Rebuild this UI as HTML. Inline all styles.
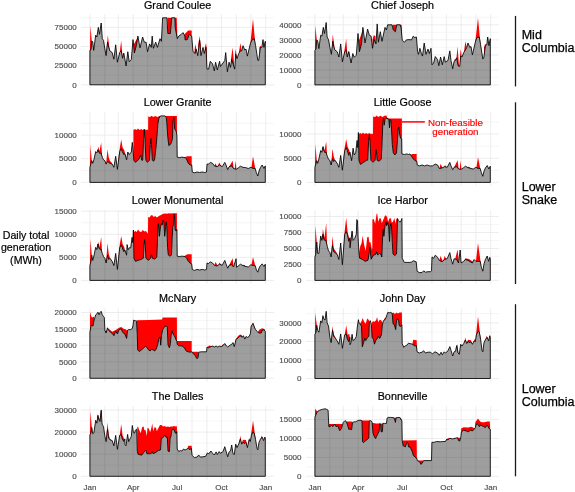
<!DOCTYPE html>
<html lang="en"><head><meta charset="utf-8"><title>Daily total generation</title>
<style>html,body{margin:0;padding:0;background:#fff}svg{display:block}</style></head>
<body>
<svg width="575" height="492" viewBox="0 0 575 492" font-family="'Liberation Sans', Arial, Helvetica, sans-serif">
<rect width="575" height="492" fill="#fff"/>
<defs><clipPath id="c_gc"><polygon points="89.9,50.3 91,49.7 91.8,41 92.7,41.7 93.7,50.3 95.7,35.2 96.9,37 98.3,27.4 99.5,34.3 101.2,23 102.3,38.7 103.5,40.4 104.9,49.1 106.1,55.6 107.5,42.2 108.7,47.4 109.9,50.9 112.2,52.6 113.9,59.2 115.7,44.8 117.4,62.2 119.7,52.6 121.2,50.9 122.6,58.3 123.8,53.1 126.1,66 127.8,51.7 129.2,61.7 131.3,59.6 133,39.6 134.4,53 136.5,44.8 137.9,36.1 140,47.9 142.6,37 144.3,42.2 146.1,42.2 147.5,51.7 149.6,43.9 151.3,47.4 152.2,36.1 153.4,48.3 155.7,42.2 157.4,47.4 160,38.7 161.4,41.3 162.6,17.8 167,17.8 167.8,33.5 170.4,33.5 171.7,17.8 174.8,17.8 175.2,27.4 177.3,38.7 178.7,36.1 181.3,34.3 183,32.6 184.8,36.1 185.1,39.9 187.4,39.6 189.1,34.3 191.7,36.1 193,51.7 195.2,53.5 196.1,49.1 197.8,55.6 199.6,40.4 201,55.6 203,47.4 204.3,53.5 206,47.4 207,69.1 208.6,69.1 210.3,61.3 212.6,63.9 214.3,70.9 215.6,62.2 217.3,70 219.6,61.3 220.4,66.5 223,63 224.8,60.4 225.7,52.6 227.4,71.7 229.1,62.2 230.5,67.4 231.7,59.6 234.7,69.1 235.7,54.3 237,58.7 238.7,53.5 240.4,50.9 241.7,50.9 243,45.7 244.8,50 246,49.1 247.4,56.1 250.3,43.9 251.7,40.4 254.3,38.7 255.6,45.7 257.8,60.4 258.7,60.4 260.4,47.4 261.8,47.4 263,39.6 263.9,47.4 265.3,41.3 265.3,9.4 89.9,9.4"/></clipPath><clipPath id="c_cj"><polygon points="314.9,50.3 316,49.1 316.8,39.9 317.7,41 318.9,48.6 320.7,35.2 321.9,36.1 323.3,27.4 324.5,33.5 326.2,22.5 327.1,37 328.5,39.6 329.9,47.4 331.4,54.3 332.8,41.3 333.7,46.5 334.9,50 337.2,51.7 338.9,57 340.7,43.9 342.4,61.8 344.7,51.7 346.2,50.3 347.3,57 348.8,51.7 351.1,63 352.8,53.5 354.2,57.3 356.3,55.2 358,33.5 359.4,51.7 361.5,43.9 362.9,27.4 365,43 367.6,29.1 369.3,35.2 371.1,36.1 372.5,48.3 374,39.6 376,43.9 377.2,23.9 378.4,42.2 380.3,31.7 382,41.3 385,27.4 386.4,30 387.6,24.8 392,24.8 393.3,30 395.4,31.7 396.7,24.8 400.2,24.8 401.1,28.3 402.3,40.4 404.6,42.2 406.3,39.9 408.9,39.6 411.5,39.9 413.3,36.1 414.5,37.5 416.4,37 417.6,51.7 418.5,54.3 419.9,48.3 421.4,53.5 422.5,56.1 424.2,43 426,54.3 428,49.1 429.4,53.5 431,48.3 432,64.8 433.6,63 435.3,56.6 437.6,59.6 438.8,65.7 440.6,57 442.3,64.8 444.2,56.6 445.4,62.2 448,60.4 449.8,50.9 451,60.4 452.7,68.8 454.1,61.3 455.5,60.4 456.7,57.8 458,65.7 459.7,66.5 460.7,56.1 462,57 463.7,52.6 465.4,50 466.7,47.4 468,43 469.8,47.4 471,46.5 472.4,54.9 475.3,42.2 476.7,37.8 479.3,37 480.6,44.8 482.8,59 483.7,58.3 485.4,45.7 486.8,44.8 487.7,37 488.9,45.7 490.3,38.7 490.3,9.4 314.9,9.4"/></clipPath><clipPath id="c_lg"><polygon points="89.9,167.3 90.8,164.1 91.8,160.7 92.7,163.3 93.9,159.8 95.7,151.6 96.9,152.8 97.9,149.9 98.8,152 100,153.7 100.9,152.8 102.3,157.2 103.5,159.8 104.9,160.7 106.1,164.1 107.5,161.5 108.7,162.4 109.9,163.3 112.2,164.1 113.9,167.3 115.7,156.3 117.4,169.3 119.7,151.6 121.2,148.5 122.3,151.6 123.8,154.6 124.9,153.7 126.6,159.8 127.8,152 129.2,154.6 131.3,152 132.3,142.4 133.1,149.8 133.8,160.2 135.4,162.3 138.6,159.7 140.7,155 141.7,160.2 142.7,160.2 143.6,139.3 144.3,129.6 145,139.3 145.9,160.2 147.4,162.3 149.5,160.2 150.3,144.5 150.9,138.5 151.5,144.5 152.3,160.2 153.7,161.2 154.7,159 156.3,144.5 157.9,123.7 158.9,118.4 160.5,115.9 165.2,115.9 166.2,117.4 166.8,122.6 167.8,137.2 168.8,145.6 170.4,144.5 171.5,142.4 172.5,138.3 173,120.5 173.9,117.2 174.6,128.9 176.1,131 176.9,135.1 177.2,157.1 179.3,157.6 181.9,157.1 185,157.6 186.5,158.9 188.3,163.3 190,165 191.7,165 192.3,172 194.3,172.8 197,172 199.6,172.5 202.2,172 204.8,172.5 206.5,172 207,164.1 208.6,164.1 210.3,162.4 212.6,163.3 214.3,165.9 217,166.7 219.6,165 222.2,166.7 224.8,162.4 226,165 227.7,169.7 229.1,166.7 231.7,165.9 233.5,168.5 236.1,169.3 238.7,167.6 240.4,166.2 243,167.3 245.7,167.6 248.3,168.5 250.9,167.3 253.1,168.5 255.2,168.5 256.4,172.8 257.8,176 259,171.1 260.4,167.6 262.2,165 263.9,168.5 265.3,165.9 265.3,107.4 89.9,107.4"/></clipPath><clipPath id="c_lgo"><polygon points="314.9,167.3 315.8,164.1 316.8,160.7 317.7,163.3 318.9,158.9 320.7,150.6 321.9,152.3 322.9,146.7 323.8,150.6 325,152.8 325.9,152 327.3,156.3 328.5,159.3 329.9,160.3 331.1,165 332.5,158.9 333.7,161.5 334.9,160.3 337.2,163.3 338.9,167.3 340.7,155.4 342.4,170.2 344.7,150.6 346.2,147.6 347.3,150.6 348.8,155.4 349.9,152 351.6,160.7 352.8,150.6 353.1,148.2 354.2,155 355.7,152.9 357.1,140.4 357.8,147.7 358.4,132.5 358.9,160.2 360.4,164.4 363.6,162.3 366.7,160.2 367.7,160.2 368.6,141.4 369.3,134.8 370,141.4 370.9,160.2 373,162.3 375.1,160.2 375.7,151.8 376.1,149.8 376.5,151.8 377.1,160.2 379.2,161.2 381.3,159 382.2,139.3 382.9,121.6 383.6,118.4 384.2,125.2 385,119.5 386,118.4 387.1,117.9 387.8,119 388.8,119 389.5,127.8 390.2,119.5 390.9,120.5 391.5,128.9 392.3,144.5 393.3,152.9 394.9,155 396.5,152.9 397.5,139.3 398.2,128.9 398.9,126.8 399.6,134.1 400.6,138.3 401.7,138.8 401.9,153.9 404.3,154.5 406.9,153.9 408.5,154.5 410,153.9 411.5,156.3 413.3,158.9 415,160.7 416.7,161 417.3,165 419.3,165.9 422,165 424.6,165.9 427.2,165 429.8,165.9 432.4,165.9 435.3,164.1 437.6,165 439.3,168.5 442,168 444.6,166.7 447.2,167.3 449.8,162.4 451,165.9 452.7,169.7 454.1,167.3 456.7,166.7 458.5,169 461.1,169.3 463.7,167.6 465.4,166.2 468,167.6 470.7,168.5 473.3,169 475.9,167.3 478.1,168.5 480.2,168.5 481.4,172.8 482.8,176.3 484,171.1 485.4,168 487.2,165.5 488.9,169 490.3,166.2 490.3,107.4 314.9,107.4"/></clipPath><clipPath id="c_lm"><polygon points="89.9,265.3 90.8,262.1 91.8,255.2 92.7,260.4 93.9,256 95.7,247.3 96.9,249.6 97.9,243.9 98.8,247.9 100,249.6 100.9,249.1 102.3,253.4 103.5,256.6 104.9,258.3 106.1,263 107.5,255.2 108.7,259.5 109.9,258.3 112.2,261.3 113.9,265.6 115.7,253.4 117.4,269.4 119.7,247.9 121.2,244.7 122.3,247.9 123.8,251.7 124.9,250 126.6,255.2 127.1,244.6 128.1,249.8 129.2,247.8 130.7,247.8 132.1,237.3 132.8,242.5 133.4,230 133.9,258.2 135.4,261.3 138.6,260.3 141.7,259.2 143.3,258.2 144,245.7 144.6,239.6 145.3,245.7 145.9,258.2 148.5,260.3 150.6,258.2 151.1,255.1 151.3,254.5 151.6,255.1 152.3,258.2 154.7,259.2 156.8,257 157.6,237.3 158.2,224.8 158.6,223.7 159.4,236.3 160.5,226.9 161.5,223.7 162.4,224.8 163.1,220.1 163.8,221.7 164.7,236.3 165.7,226.9 166.2,221.7 166.8,226.9 167.6,247.8 168.3,255.1 169.9,256.1 171.5,255.1 172.2,237.3 172.8,226.9 173.5,224.8 174.1,214.4 174.6,217.5 175.1,230 176.1,231.1 176.9,229.5 177.2,256.1 179.3,256.6 181.9,256.1 185,256.6 186.5,257.8 188.3,261.3 190,263 191.7,263.9 192.3,269.4 194.3,270.5 197,269.4 199.6,270 202.2,269.4 204.8,270 206.5,269.4 207,263 208.6,263.5 210.3,261.8 212.6,263 214.3,265.3 217,266 219.6,264.2 222.2,265.3 224.8,260.4 226,263.9 227.7,268.2 229.1,265.3 231.7,264.7 233.5,267 236.1,258.7 236.6,267.3 238.7,265.6 240.4,264.2 243,265.6 245.7,266.5 248.3,267 250.9,264.7 253.1,265.6 255.2,265.6 256.4,270 257.8,272.2 259,268.2 260.4,265.6 262.2,263.9 263.9,266.5 265.3,264.2 265.3,205.4 89.9,205.4"/></clipPath><clipPath id="c_ih"><polygon points="314.9,256.9 315.8,254.3 316.8,242.1 317.7,253.4 318.9,253.4 320.7,236 321.9,240.4 322.9,234.3 323.8,239.5 325,240.4 325.9,240.4 327.3,246.5 328.5,250.8 329.9,252.6 331.1,256.9 332.5,245.6 333.7,251.7 334.9,252.6 337.2,254.3 338.9,259.5 340.7,243 342.4,264.7 344.7,234.3 346.2,231.7 347.3,234.3 348.8,241.3 349.9,237.8 350,247.8 352.1,231.1 353.1,240.4 354.7,238.4 356.3,234.2 356.8,219.6 357.5,220.6 358.1,237.3 358.9,251.9 359.6,258.2 362,259.2 365.1,261.3 368,260.3 369.3,251.9 369.8,246.9 370.4,251.9 371.1,259.2 373.5,255.1 375.6,254.5 376.6,251.9 377.7,255.1 379.2,253.5 380.8,254 381.8,257 382.6,237.3 383.2,229 383.9,236.3 385,225.8 386,221.7 386.7,225.8 387.6,222.7 388.6,225.8 389.5,241.5 390.2,226.9 390.9,223.7 391.5,226.9 392.3,242.5 393,254 394.9,255.6 396.5,254 397.2,232.1 397.5,218.5 398.5,220.6 399.9,222.2 401.1,220.6 401.9,218.5 402.2,258.2 404.3,262.4 410,262.4 411.5,262.1 413.3,260.7 416.2,261.8 417.1,271.2 419.3,272.6 422,272.6 423.7,270.8 425.4,272.2 428,271.7 430.7,271.7 431.5,270.8 432,256.9 433.6,258.3 435.3,255.2 437.6,257.3 439.3,260.4 442,261.8 444.6,259.5 447.2,258.7 449.8,252.6 451,258.7 452.7,264.2 454.1,258.7 456.7,259.5 458.5,263 460.2,250 461.1,263 463.7,261.3 465.4,259.5 468,260.4 470.7,262.1 472.4,263 474.1,259.5 475.9,261.3 478.1,261.3 480.2,261.3 481.4,267.3 482.8,271.2 484,263.9 485.4,259.5 487.2,256 488.6,261.3 489.8,257.3 490.3,258.7 490.3,205.4 314.9,205.4"/></clipPath><clipPath id="c_mn"><polygon points="89.9,332.2 91,326.1 91.8,325.2 93,326.1 93.9,320.9 95.7,314.8 96.9,313.9 97.9,312.2 99.1,314.8 100,312.5 101.2,311.3 102.3,314.8 103.5,316.5 104.3,317.4 104.9,330.4 106.1,333 107.5,327.8 108.7,330.4 110.4,332.2 112.2,333.4 113.9,335.7 115.7,331.3 117.4,333.9 119.1,329.6 121.2,328.7 122.6,332.2 124.3,333.9 125,334.3 126.6,338.4 127.6,330.1 128.7,329.6 130.7,329.6 132.3,328.5 133.1,324.9 133.6,320.2 135.4,320.7 136.5,321.2 137.3,335.3 137.7,349.9 139.1,351.5 140.7,350.5 142.7,348.9 145.4,346.3 146.9,347.3 148.5,349.9 150.1,351 151.6,349.4 153.2,349.9 154.7,351 156.3,348.9 157.9,343.7 158.9,338.4 160,336.9 160.7,345.2 161.5,335.3 162.6,330.1 163.8,327.5 165.2,326.4 166.2,325.9 167.3,327 168,344.7 169.4,347.8 170.4,343.7 171.5,331.1 172.2,330.6 173,334.3 174.1,335.3 175.1,337.4 176.1,340 176.9,341.1 177.2,344.2 178.8,345.8 180.8,345.8 182.9,346.3 184,347.8 185,348.9 186.5,351.3 188.3,351.8 190,352.2 191.7,351.8 193.5,353.9 195.2,355.7 197,358.8 198.2,357.4 198.7,352.2 201.3,351.8 203.9,351.8 206.5,351.8 207,347 208.6,347.8 210.9,346.6 212.6,346.1 214.3,347 216.1,346.1 217.8,347 219.6,346.1 221.3,346.6 223,345.6 224.8,343.5 226.5,346.1 227.7,347 230,345.2 231.7,344.3 233,342.6 234.3,346.6 236.1,339.1 237.8,338.3 239.6,336.5 241,335.7 242.2,337.4 243.4,335.7 244.8,339.1 246,336.5 247.4,337.4 249.1,336.5 250.3,333.9 251.2,326.1 253,323.5 254.3,327 255.6,329.6 257,331.3 258.7,333 261.3,333 262.2,330.4 263.9,329.9 265.3,331.3 265.3,303.3 89.9,303.3"/></clipPath><clipPath id="c_jd"><polygon points="314.9,334.4 316,332.2 316.8,325.2 317.7,330.4 318.9,332.2 320.7,320.9 321.9,322.6 322.9,315.7 323.8,319.1 325,320 326.2,311.3 327.1,322.6 328.5,326.1 329.9,337.4 331.1,342.6 332.5,330.4 333.7,336.5 334.9,337.4 337.2,340.9 338.9,344.3 340.7,333.9 342.4,348.3 344.7,334.8 346.2,333.9 347.3,339.1 348.8,341.7 349.9,337.4 350,344.7 351,342.6 352.1,334.3 352.9,340.5 354.7,339.5 356.3,336.4 357.3,327 358.4,319.7 359.2,323.3 360.4,324.4 361.5,326.4 362.3,346.8 363.6,342.6 364.8,338.4 365.7,340.5 367.2,337.9 368.8,336.4 369.3,322.8 370.4,320.7 371.4,324.9 372.1,337.4 373.5,339.5 374.5,344.2 375.9,340 377.1,339 378.2,336.4 379.7,338.4 381.3,335.3 382.4,324.9 383.4,320.7 385,319.7 386,317.6 387.1,314.4 387.8,312.4 389.1,312.9 390.2,312.4 391.2,312.4 392.3,314.4 393,323.8 394.4,324.9 395.7,329.6 396.5,320.7 397.5,318.6 398.5,320.7 399.3,325.9 400.6,326.4 401.9,324.9 402.2,343.7 403.8,347.3 405.3,345.8 406.9,345.2 408.5,343.1 410,343.7 411.5,343.8 413.3,344.9 415,346.1 416.4,345.6 417.1,351.8 419.3,353 422,352.2 423.7,350.8 425.4,353 428,352.2 430.7,352.2 432.4,353.9 435,351.8 437.6,353 439.3,355.3 441.1,352.2 442.3,354.8 444.2,351.8 445.4,353 448,350.8 449.8,346.6 451,350.4 452.7,356 454.1,351.8 455.5,351.3 456.7,345.6 458,353 459.3,354.3 460.7,344.3 462,346.1 463.7,343.5 465.4,340 466.7,343.5 468,341.7 469.8,342.6 471,341.7 472.4,344.3 474.1,340.9 475.3,341.7 476.4,334.8 478,331.3 479.3,332.2 480.6,339.1 482,350.4 482.8,351.8 484,342.6 485.4,339.7 487.2,337.4 488.6,340.9 489.8,335.7 490.3,337.4 490.3,303.3 314.9,303.3"/></clipPath><clipPath id="c_td"><polygon points="89.9,434.9 91,432.8 91.8,427.6 92.7,433.7 93.9,432.8 95.7,420.3 96.9,423.2 97.9,415.4 98.8,419.7 100,421.5 101.2,410.2 102.1,424.1 103.5,426.7 104.9,436.3 106.1,441.5 107.5,429.3 108.7,438 109.9,439.7 112.2,440.6 113.9,445.8 115.7,435.4 117.4,449.3 119.7,435.4 121.2,434.5 122.3,438.9 123.8,441.5 124.9,438.9 125,444.8 126,445.8 127.6,434.4 128.7,441.7 130.2,438.5 131.3,436.4 132.3,425.5 133.4,432.3 134.4,433.3 135.4,430.2 136.7,429.1 137.3,451.1 138,454.2 141.7,455.2 144.8,451.1 145.9,450 146.9,453.7 151.1,453.7 152.1,451.6 153.2,453.7 156.3,452.1 158.4,450.5 160.5,450 161.3,438.5 162.6,438 164.1,435.9 165.2,435.4 166.2,437.5 167.3,437 168,451.1 169.4,451.6 170.1,438.5 170.9,436.4 171.8,430.2 173,429.1 174.1,429.7 175.1,432.8 176.1,433.3 176.9,431.7 177.2,449 178.8,451.6 180.3,450.5 181.9,451.1 183.5,449 185,450 186.5,449.3 188.3,448.4 190,449.8 191.4,448.4 192.1,455.4 194.3,457.5 197,457.1 198.7,455 200.4,457.1 203,456.8 205.7,456.3 207.4,452.8 208.6,454 210.9,451 212.6,453.3 214.3,455 216.1,451.9 217.3,454.5 219.2,451.6 220.4,453.3 223,451.6 224.8,446.7 226,451 227.7,456.8 229.1,451.9 230.5,451 231.7,445 233,453.7 234.3,454.5 235.7,444.1 237,447.6 238.7,444.1 240.4,438.9 241.7,444.1 243,442.3 244.8,443.6 246,442.3 247.4,447.6 249.1,439.7 250.3,441.5 251.4,435.4 253,431.9 254.3,433.7 255.6,439.7 257,448.4 257.8,449.8 259,442.3 260.4,439.4 262.2,437.1 263.6,440.6 264.8,437.1 265.3,438 265.3,401.2 89.9,401.2"/></clipPath><clipPath id="c_bv"><polygon points="314.9,417.1 316,414.5 316.8,412.8 318,411 319.8,410.2 322.4,409.3 325,408.8 326.7,409.3 328.1,410.2 328.8,426.7 330.2,426.7 331.4,425 332.8,426.7 334.6,424.1 336,426.7 337.7,425.8 339.8,430.7 341.5,428.4 343.3,422.3 345,420.6 346.2,421.5 347.3,424.1 348.8,429.3 350,429.1 351.6,429.7 352.6,422.4 354.2,421.8 355.7,421.8 357.3,420.8 358.9,420.3 361,420.3 362,420.8 362.5,441.7 363.6,442.7 365.1,441.1 367.2,439.6 368.8,438 369.3,420.8 370.4,420.6 371.4,421 372.1,422.4 373,433.3 374.5,437 375.6,438.5 376.6,436.4 378.2,433.3 379.2,431.2 379.7,423.4 380.5,423.9 381.1,431.7 382.4,431.7 382.9,423.4 384.4,423.4 386.5,423.4 387.1,418.2 388.1,417.4 390.7,417.4 393.8,417.7 394.7,419.7 395.4,422.4 396.1,417.7 399.1,417.4 400.1,417.7 400.9,419.7 401.9,420.8 402.2,440.6 403.2,445.8 404.3,446.4 405.3,446.9 406.4,443.8 407.2,442.2 407.9,443.2 408.5,446.9 410,446.9 410.7,448.4 412.4,451.9 413.3,455.4 415,457.1 416.7,458 417.3,460.6 419.3,461.5 421.1,464.4 422.8,462 423.7,460.6 431.5,460.6 431.9,442.3 434.1,442.3 436.7,441.5 440.2,441.8 442.8,441.5 445.4,441.5 446.3,439.7 448,439.7 449.8,438.3 452.4,438.9 455,438.3 457.6,437.7 458.5,440.6 459.7,441.1 460.7,438 461.4,431.9 463.7,430.2 466.3,431 468,431.9 470.7,430.2 472.4,431 474.1,429.3 475.3,427.6 476.4,424.1 478,424.1 479.3,426.7 480.6,425 482,425.8 483.7,426.7 485.4,427.6 487.2,425 488.9,428.4 490.3,429.3 490.3,401.2 314.9,401.2"/></clipPath></defs>
<path d="M81.1 75.2H274.1M81.1 56.1H274.1M81.1 37H274.1M81.1 17.8H274.1" stroke="#ececec" stroke-width=".5" fill="none"/>
<path d="M81.1 84.8H274.1M81.1 65.7H274.1M81.1 46.5H274.1M81.1 27.4H274.1M89.9 14.4V88.2M104.8 14.4V88.2M118.3 14.4V88.2M133.2 14.4V88.2M147.7 14.4V88.2M162.6 14.4V88.2M177.1 14.4V88.2M192 14.4V88.2M206.9 14.4V88.2M221.4 14.4V88.2M236.3 14.4V88.2M250.8 14.4V88.2M265.7 14.4V88.2" stroke="#e9e9e9" stroke-width=".8" fill="none"/>
<path clip-path="url(#c_gc)" d="M89.9 84.8L89.9 50.3L90.4 25.7L91.8 41L91.8 84.8ZM106.1 84.8L106.1 55.6L107.8 35.2L109.9 50.9L109.9 84.8ZM119.7 84.8L119.7 52.6L121.2 40.4L122.6 58.3L122.6 84.8ZM133.6 84.8L133.6 44.8L137.4 37.8L137.9 36.1L137.9 84.8ZM167.5 84.8L167.5 17.8L171.7 17.8L171.7 84.8ZM174.8 84.8L174.8 17.8L176.7 17.8L177.4 38.7L177.4 84.8ZM170 84.8L170 17.8L176.6 17.8L177.3 38.7L177.3 84.8ZM184.4 84.8L184.4 34.3L188.3 30.5L191.7 30.5L191.7 36.1L191.7 84.8ZM194.3 84.8L194.3 53.5L195.2 43.9L196.4 49.1L196.4 84.8ZM198.3 84.8L198.3 44.8L199.6 36.1L200.8 44.8L200.8 84.8ZM204.8 84.8L204.8 47.4L206 43L206.9 50L206.9 84.8ZM230.9 84.8L230.9 59.6L232.6 47.4L234 62.2L234 84.8ZM235 84.8L235 54.3L235.7 49.1L236.8 57L236.8 84.8ZM239 84.8L239 51.7L240.4 43L241.7 50.9L241.7 84.8ZM250.3 84.8L250.3 43.9L253 18.7L255.2 43L255.2 84.8ZM259.4 84.8L259.4 47.4L260.4 45.7L261.8 47.4L261.8 84.8Z" fill="#f00"/>
<polygon points="89.9,84.8 89.9,50.3 91,49.7 91.8,41 92.7,41.7 93.7,50.3 95.7,35.2 96.9,37 98.3,27.4 99.5,34.3 101.2,23 102.3,38.7 103.5,40.4 104.9,49.1 106.1,55.6 107.5,42.2 108.7,47.4 109.9,50.9 112.2,52.6 113.9,59.2 115.7,44.8 117.4,62.2 119.7,52.6 121.2,50.9 122.6,58.3 123.8,53.1 126.1,66 127.8,51.7 129.2,61.7 131.3,59.6 133,39.6 134.4,53 136.5,44.8 137.9,36.1 140,47.9 142.6,37 144.3,42.2 146.1,42.2 147.5,51.7 149.6,43.9 151.3,47.4 152.2,36.1 153.4,48.3 155.7,42.2 157.4,47.4 160,38.7 161.4,41.3 162.6,17.8 167,17.8 167.8,33.5 170.4,33.5 171.7,17.8 174.8,17.8 175.2,27.4 177.3,38.7 178.7,36.1 181.3,34.3 183,32.6 184.8,36.1 185.1,39.9 187.4,39.6 189.1,34.3 191.7,36.1 193,51.7 195.2,53.5 196.1,49.1 197.8,55.6 199.6,40.4 201,55.6 203,47.4 204.3,53.5 206,47.4 207,69.1 208.6,69.1 210.3,61.3 212.6,63.9 214.3,70.9 215.6,62.2 217.3,70 219.6,61.3 220.4,66.5 223,63 224.8,60.4 225.7,52.6 227.4,71.7 229.1,62.2 230.5,67.4 231.7,59.6 234.7,69.1 235.7,54.3 237,58.7 238.7,53.5 240.4,50.9 241.7,50.9 243,45.7 244.8,50 246,49.1 247.4,56.1 250.3,43.9 251.7,40.4 254.3,38.7 255.6,45.7 257.8,60.4 258.7,60.4 260.4,47.4 261.8,47.4 263,39.6 263.9,47.4 265.3,41.3 265.3,84.8" fill="#000" fill-opacity=".38" stroke="#000" stroke-width=".85" stroke-linejoin="round"/>
<text x="177.6" y="8.6" font-size="10.8" text-anchor="middle" fill="#000" stroke="#000" stroke-width=".2">Grand Coulee</text>
<text x="76.8" y="87.5" font-size="8" text-anchor="end" fill="#4d4d4d" stroke="#4d4d4d" stroke-width=".15">0</text>
<text x="76.8" y="68.4" font-size="8" text-anchor="end" fill="#4d4d4d" stroke="#4d4d4d" stroke-width=".15">25000</text>
<text x="76.8" y="49.2" font-size="8" text-anchor="end" fill="#4d4d4d" stroke="#4d4d4d" stroke-width=".15">50000</text>
<text x="76.8" y="30.1" font-size="8" text-anchor="end" fill="#4d4d4d" stroke="#4d4d4d" stroke-width=".15">75000</text>
<path d="M306.1 77.4H499M306.1 62.4H499M306.1 47.3H499M306.1 32.3H499M306.1 17.3H499" stroke="#ececec" stroke-width=".5" fill="none"/>
<path d="M306.1 84.9H499M306.1 70H499M306.1 54.9H499M306.1 39.8H499M306.1 24.8H499M314.9 14.4V88.2M329.8 14.4V88.2M343.3 14.4V88.2M358.2 14.4V88.2M372.7 14.4V88.2M387.6 14.4V88.2M402.1 14.4V88.2M417 14.4V88.2M431.9 14.4V88.2M446.4 14.4V88.2M461.3 14.4V88.2M475.8 14.4V88.2M490.7 14.4V88.2" stroke="#e9e9e9" stroke-width=".8" fill="none"/>
<path clip-path="url(#c_cj)" d="M314.9 84.9L314.9 50.3L315.3 25.3L316.8 39.9L316.8 84.9ZM331.4 84.9L331.4 54.3L332.8 34.3L334.9 50L334.9 84.9ZM344.1 84.9L344.1 52.6L346.2 38.7L347.6 57L347.6 84.9ZM348 84.9L348 55.2L348.8 50.3L349.9 57L349.9 84.9ZM358.6 84.9L358.6 41.3L360.7 36.1L362.9 29.1L362.9 84.9ZM372.5 84.9L372.5 39.6L373.7 35.2L375.4 36.1L376 43.9L376 84.9ZM392.5 84.9L392.5 24.8L396.7 24.8L396.7 84.9ZM399.8 84.9L399.8 24.8L401.2 24.8L401.7 29.1L401.7 84.9ZM395 84.9L395 24.8L401.6 24.8L402 30.9L402 84.9ZM454.1 84.9L454.1 61.3L455 58.7L456.2 59.6L456.2 84.9ZM456.2 84.9L456.2 60.4L457.6 46.5L459 65.7L459 84.9ZM460 84.9L460 56.1L460.7 49.1L461.8 57L461.8 84.9ZM464 84.9L464 51.7L465.4 41.3L466.7 47.4L466.7 84.9ZM475.3 84.9L475.3 42.2L478 17.8L480.2 41.3L480.2 84.9ZM484 84.9L484 47.4L485.1 43.9L486.8 44.8L486.8 84.9Z" fill="#f00"/>
<polygon points="314.9,84.9 314.9,50.3 316,49.1 316.8,39.9 317.7,41 318.9,48.6 320.7,35.2 321.9,36.1 323.3,27.4 324.5,33.5 326.2,22.5 327.1,37 328.5,39.6 329.9,47.4 331.4,54.3 332.8,41.3 333.7,46.5 334.9,50 337.2,51.7 338.9,57 340.7,43.9 342.4,61.8 344.7,51.7 346.2,50.3 347.3,57 348.8,51.7 351.1,63 352.8,53.5 354.2,57.3 356.3,55.2 358,33.5 359.4,51.7 361.5,43.9 362.9,27.4 365,43 367.6,29.1 369.3,35.2 371.1,36.1 372.5,48.3 374,39.6 376,43.9 377.2,23.9 378.4,42.2 380.3,31.7 382,41.3 385,27.4 386.4,30 387.6,24.8 392,24.8 393.3,30 395.4,31.7 396.7,24.8 400.2,24.8 401.1,28.3 402.3,40.4 404.6,42.2 406.3,39.9 408.9,39.6 411.5,39.9 413.3,36.1 414.5,37.5 416.4,37 417.6,51.7 418.5,54.3 419.9,48.3 421.4,53.5 422.5,56.1 424.2,43 426,54.3 428,49.1 429.4,53.5 431,48.3 432,64.8 433.6,63 435.3,56.6 437.6,59.6 438.8,65.7 440.6,57 442.3,64.8 444.2,56.6 445.4,62.2 448,60.4 449.8,50.9 451,60.4 452.7,68.8 454.1,61.3 455.5,60.4 456.7,57.8 458,65.7 459.7,66.5 460.7,56.1 462,57 463.7,52.6 465.4,50 466.7,47.4 468,43 469.8,47.4 471,46.5 472.4,54.9 475.3,42.2 476.7,37.8 479.3,37 480.6,44.8 482.8,59 483.7,58.3 485.4,45.7 486.8,44.8 487.7,37 488.9,45.7 490.3,38.7 490.3,84.9" fill="#000" fill-opacity=".38" stroke="#000" stroke-width=".85" stroke-linejoin="round"/>
<text x="402.6" y="8.6" font-size="10.8" text-anchor="middle" fill="#000" stroke="#000" stroke-width=".2">Chief Joseph</text>
<text x="301.5" y="87.6" font-size="8" text-anchor="end" fill="#4d4d4d" stroke="#4d4d4d" stroke-width=".15">0</text>
<text x="301.5" y="72.7" font-size="8" text-anchor="end" fill="#4d4d4d" stroke="#4d4d4d" stroke-width=".15">10000</text>
<text x="301.5" y="57.6" font-size="8" text-anchor="end" fill="#4d4d4d" stroke="#4d4d4d" stroke-width=".15">20000</text>
<text x="301.5" y="42.5" font-size="8" text-anchor="end" fill="#4d4d4d" stroke="#4d4d4d" stroke-width=".15">30000</text>
<text x="301.5" y="27.5" font-size="8" text-anchor="end" fill="#4d4d4d" stroke="#4d4d4d" stroke-width=".15">40000</text>
<path d="M81.1 170.6H274.1M81.1 146.9H274.1M81.1 123.3H274.1" stroke="#ececec" stroke-width=".5" fill="none"/>
<path d="M81.1 182.4H274.1M81.1 158.7H274.1M81.1 135.1H274.1M89.9 112.4V185.9M104.8 112.4V185.9M118.3 112.4V185.9M133.2 112.4V185.9M147.7 112.4V185.9M162.6 112.4V185.9M177.1 112.4V185.9M192 112.4V185.9M206.9 112.4V185.9M221.4 112.4V185.9M236.3 112.4V185.9M250.8 112.4V185.9M265.7 112.4V185.9" stroke="#e9e9e9" stroke-width=".8" fill="none"/>
<path clip-path="url(#c_lg)" d="M89.9 182.4L89.9 167.3L90.4 144.7L91.8 160.7L91.8 182.4ZM96.9 182.4L96.9 152.8L98.3 146.7L99.5 151.1L101.2 142.4L102.1 155.4L102.1 182.4ZM106.1 182.4L106.1 164.1L107.5 149.3L108.7 157.2L109.9 160.7L112.2 163.3L112.2 182.4ZM118.6 182.4L118.6 157.2L119.7 148.5L121.2 139.4L122.6 147.6L124.3 150.2L125.6 155.4L125.6 182.4ZM184.4 182.4L184.4 157.2L187.4 156.3L191.7 156.3L191.7 165L191.7 182.4ZM214.3 182.4L214.3 165.9L215.6 163.3L217 166.7L217 182.4ZM217.8 182.4L217.8 165.9L219.2 162.4L221.3 166.2L221.3 182.4ZM229.1 182.4L229.1 166.7L232.6 160.7L233.7 168.5L233.7 182.4ZM234.7 182.4L234.7 169L235.6 160.7L236.4 169L236.4 182.4ZM251.4 182.4L251.4 167.6L253 156.3L255.2 168L255.2 182.4ZM133.4 182.4L133.4 159L133.4 129.9L134.9 128.9L136.5 129.9L138 128.4L139.6 129.9L141.2 128.9L142.7 129.9L144.3 128.9L145.9 129.9L147.4 129.4L148.1 130.4L148.2 116.4L150.1 116.9L151.6 115.8L153.2 116.9L155.3 116.1L157.4 116.9L159.4 115.9L176.9 115.9L176.9 135.1L176.9 182.4Z" fill="#f00"/>
<polygon points="89.9,182.4 89.9,167.3 90.8,164.1 91.8,160.7 92.7,163.3 93.9,159.8 95.7,151.6 96.9,152.8 97.9,149.9 98.8,152 100,153.7 100.9,152.8 102.3,157.2 103.5,159.8 104.9,160.7 106.1,164.1 107.5,161.5 108.7,162.4 109.9,163.3 112.2,164.1 113.9,167.3 115.7,156.3 117.4,169.3 119.7,151.6 121.2,148.5 122.3,151.6 123.8,154.6 124.9,153.7 126.6,159.8 127.8,152 129.2,154.6 131.3,152 132.3,142.4 133.1,149.8 133.8,160.2 135.4,162.3 138.6,159.7 140.7,155 141.7,160.2 142.7,160.2 143.6,139.3 144.3,129.6 145,139.3 145.9,160.2 147.4,162.3 149.5,160.2 150.3,144.5 150.9,138.5 151.5,144.5 152.3,160.2 153.7,161.2 154.7,159 156.3,144.5 157.9,123.7 158.9,118.4 160.5,115.9 165.2,115.9 166.2,117.4 166.8,122.6 167.8,137.2 168.8,145.6 170.4,144.5 171.5,142.4 172.5,138.3 173,120.5 173.9,117.2 174.6,128.9 176.1,131 176.9,135.1 177.2,157.1 179.3,157.6 181.9,157.1 185,157.6 186.5,158.9 188.3,163.3 190,165 191.7,165 192.3,172 194.3,172.8 197,172 199.6,172.5 202.2,172 204.8,172.5 206.5,172 207,164.1 208.6,164.1 210.3,162.4 212.6,163.3 214.3,165.9 217,166.7 219.6,165 222.2,166.7 224.8,162.4 226,165 227.7,169.7 229.1,166.7 231.7,165.9 233.5,168.5 236.1,169.3 238.7,167.6 240.4,166.2 243,167.3 245.7,167.6 248.3,168.5 250.9,167.3 253.1,168.5 255.2,168.5 256.4,172.8 257.8,176 259,171.1 260.4,167.6 262.2,165 263.9,168.5 265.3,165.9 265.3,182.4" fill="#000" fill-opacity=".38" stroke="#000" stroke-width=".85" stroke-linejoin="round"/>
<text x="177.6" y="106.2" font-size="10.8" text-anchor="middle" fill="#000" stroke="#000" stroke-width=".2">Lower Granite</text>
<text x="76.8" y="185.1" font-size="8" text-anchor="end" fill="#4d4d4d" stroke="#4d4d4d" stroke-width=".15">0</text>
<text x="76.8" y="161.4" font-size="8" text-anchor="end" fill="#4d4d4d" stroke="#4d4d4d" stroke-width=".15">5000</text>
<text x="76.8" y="137.8" font-size="8" text-anchor="end" fill="#4d4d4d" stroke="#4d4d4d" stroke-width=".15">10000</text>
<path d="M306.1 170.4H499M306.1 146.2H499M306.1 121.9H499" stroke="#ececec" stroke-width=".5" fill="none"/>
<path d="M306.1 182.4H499M306.1 158.3H499M306.1 134H499M314.9 112.4V185.9M329.8 112.4V185.9M343.3 112.4V185.9M358.2 112.4V185.9M372.7 112.4V185.9M387.6 112.4V185.9M402.1 112.4V185.9M417 112.4V185.9M431.9 112.4V185.9M446.4 112.4V185.9M461.3 112.4V185.9M475.8 112.4V185.9M490.7 112.4V185.9" stroke="#e9e9e9" stroke-width=".8" fill="none"/>
<path clip-path="url(#c_lgo)" d="M314.9 182.4L314.9 167.3L315.4 144.1L316.8 160.7L316.8 182.4ZM321.9 182.4L321.9 152.3L323.3 145.9L324.5 150.6L326.2 141.5L327.1 155.4L327.1 182.4ZM331.1 182.4L331.1 165L332.5 148.5L333.7 156.3L334.9 159.8L337.2 163.3L337.2 182.4ZM343.6 182.4L343.6 157.2L344.7 147.6L346.2 138.9L347.6 146.7L349.3 150.2L350.6 155.4L350.6 182.4ZM409.4 182.4L409.4 155.4L412.4 154L416.7 154L416.7 161L416.7 182.4ZM439.3 182.4L439.3 168.5L440.6 164.1L442.8 168L442.8 182.4ZM443.7 182.4L443.7 167.3L445.1 165L446.3 167.3L446.3 182.4ZM454.1 182.4L454.1 167.3L457.6 160.3L458.7 169L458.7 182.4ZM459.7 182.4L459.7 169.3L460.6 160.3L461.4 169.3L461.4 182.4ZM466.3 182.4L466.3 167.6L468.9 166.7L471.5 168.5L471.5 182.4ZM476.4 182.4L476.4 167.6L478 157.2L480.2 168L480.2 182.4ZM358.9 182.4L358.9 159L358.9 134.1L360.4 133.1L361.7 134.1L363 132.5L364.6 134.1L366.2 133.1L367.7 134.1L369.3 133.1L370.9 134.1L372.4 133.6L373 134.6L373.1 116.4L375.1 116.9L376.6 115.5L378.2 116.9L380.3 115.8L382.4 116.9L384.4 115.8L386.5 115.5L387.2 118.4L401.9 118.4L401.9 138.8L401.9 182.4Z" fill="#f00"/>
<polygon points="314.9,182.4 314.9,167.3 315.8,164.1 316.8,160.7 317.7,163.3 318.9,158.9 320.7,150.6 321.9,152.3 322.9,146.7 323.8,150.6 325,152.8 325.9,152 327.3,156.3 328.5,159.3 329.9,160.3 331.1,165 332.5,158.9 333.7,161.5 334.9,160.3 337.2,163.3 338.9,167.3 340.7,155.4 342.4,170.2 344.7,150.6 346.2,147.6 347.3,150.6 348.8,155.4 349.9,152 351.6,160.7 352.8,150.6 353.1,148.2 354.2,155 355.7,152.9 357.1,140.4 357.8,147.7 358.4,132.5 358.9,160.2 360.4,164.4 363.6,162.3 366.7,160.2 367.7,160.2 368.6,141.4 369.3,134.8 370,141.4 370.9,160.2 373,162.3 375.1,160.2 375.7,151.8 376.1,149.8 376.5,151.8 377.1,160.2 379.2,161.2 381.3,159 382.2,139.3 382.9,121.6 383.6,118.4 384.2,125.2 385,119.5 386,118.4 387.1,117.9 387.8,119 388.8,119 389.5,127.8 390.2,119.5 390.9,120.5 391.5,128.9 392.3,144.5 393.3,152.9 394.9,155 396.5,152.9 397.5,139.3 398.2,128.9 398.9,126.8 399.6,134.1 400.6,138.3 401.7,138.8 401.9,153.9 404.3,154.5 406.9,153.9 408.5,154.5 410,153.9 411.5,156.3 413.3,158.9 415,160.7 416.7,161 417.3,165 419.3,165.9 422,165 424.6,165.9 427.2,165 429.8,165.9 432.4,165.9 435.3,164.1 437.6,165 439.3,168.5 442,168 444.6,166.7 447.2,167.3 449.8,162.4 451,165.9 452.7,169.7 454.1,167.3 456.7,166.7 458.5,169 461.1,169.3 463.7,167.6 465.4,166.2 468,167.6 470.7,168.5 473.3,169 475.9,167.3 478.1,168.5 480.2,168.5 481.4,172.8 482.8,176.3 484,171.1 485.4,168 487.2,165.5 488.9,169 490.3,166.2 490.3,182.4" fill="#000" fill-opacity=".38" stroke="#000" stroke-width=".85" stroke-linejoin="round"/>
<text x="402.6" y="106.2" font-size="10.8" text-anchor="middle" fill="#000" stroke="#000" stroke-width=".2">Little Goose</text>
<text x="301.5" y="185.1" font-size="8" text-anchor="end" fill="#4d4d4d" stroke="#4d4d4d" stroke-width=".15">0</text>
<text x="301.5" y="161" font-size="8" text-anchor="end" fill="#4d4d4d" stroke="#4d4d4d" stroke-width=".15">5000</text>
<text x="301.5" y="136.7" font-size="8" text-anchor="end" fill="#4d4d4d" stroke="#4d4d4d" stroke-width=".15">10000</text>
<path d="M81.1 268.9H274.1M81.1 245.9H274.1M81.1 222.8H274.1" stroke="#ececec" stroke-width=".5" fill="none"/>
<path d="M81.1 280.4H274.1M81.1 257.4H274.1M81.1 234.3H274.1M81.1 211.2H274.1M89.9 210.4V283.9M104.8 210.4V283.9M118.3 210.4V283.9M133.2 210.4V283.9M147.7 210.4V283.9M162.6 210.4V283.9M177.1 210.4V283.9M192 210.4V283.9M206.9 210.4V283.9M221.4 210.4V283.9M236.3 210.4V283.9M250.8 210.4V283.9M265.7 210.4V283.9" stroke="#e9e9e9" stroke-width=".8" fill="none"/>
<path clip-path="url(#c_lm)" d="M89.9 280.4L89.9 265.3L90.4 238.7L91.8 255.2L91.8 280.4ZM96.9 280.4L96.9 249.6L98.3 242.1L99.5 247.3L101.2 236.9L102.1 252.6L102.1 280.4ZM106.1 280.4L106.1 263L107.5 243L108.7 253.4L109.9 257.8L112.2 261.3L112.2 280.4ZM118.6 280.4L118.6 255.2L119.7 244.7L121.2 236L122.6 243.9L124.3 247.3L125.6 252.6L125.6 280.4ZM184.4 280.4L184.4 256L187.4 254.3L191.7 254.3L191.7 263.9L191.7 280.4ZM214.3 280.4L214.3 265.3L215.6 262.1L217.8 266L217.8 280.4ZM218.3 280.4L218.3 265.3L219.6 262.5L221.3 265.3L221.3 280.4ZM229.1 280.4L229.1 265.3L232.6 258.3L233.7 267L233.7 280.4ZM241.3 280.4L241.3 265.6L243.9 264.7L246.5 266.5L246.5 280.4ZM251.4 280.4L251.4 265.3L253 256.9L255.2 265.6L255.2 280.4ZM133.9 280.4L133.9 257L133.9 232.1L135.4 231.1L136.7 232.1L138 229.5L139.6 231.6L141.2 232.1L142.7 230L144.3 231.6L145.9 231.1L147.4 233.1L148 233.7L148.1 217L149.5 217.5L150.9 215.4L152.1 214.9L153.7 217L155.3 215.9L156.8 217.5L158.9 215.9L161 214.9L163.1 213.8L165.2 213.5L166.8 213.8L168.8 213.3L170.9 213.5L173 213.3L176.9 213.3L176.9 229.5L176.9 280.4Z" fill="#f00"/>
<polygon points="89.9,280.4 89.9,265.3 90.8,262.1 91.8,255.2 92.7,260.4 93.9,256 95.7,247.3 96.9,249.6 97.9,243.9 98.8,247.9 100,249.6 100.9,249.1 102.3,253.4 103.5,256.6 104.9,258.3 106.1,263 107.5,255.2 108.7,259.5 109.9,258.3 112.2,261.3 113.9,265.6 115.7,253.4 117.4,269.4 119.7,247.9 121.2,244.7 122.3,247.9 123.8,251.7 124.9,250 126.6,255.2 127.1,244.6 128.1,249.8 129.2,247.8 130.7,247.8 132.1,237.3 132.8,242.5 133.4,230 133.9,258.2 135.4,261.3 138.6,260.3 141.7,259.2 143.3,258.2 144,245.7 144.6,239.6 145.3,245.7 145.9,258.2 148.5,260.3 150.6,258.2 151.1,255.1 151.3,254.5 151.6,255.1 152.3,258.2 154.7,259.2 156.8,257 157.6,237.3 158.2,224.8 158.6,223.7 159.4,236.3 160.5,226.9 161.5,223.7 162.4,224.8 163.1,220.1 163.8,221.7 164.7,236.3 165.7,226.9 166.2,221.7 166.8,226.9 167.6,247.8 168.3,255.1 169.9,256.1 171.5,255.1 172.2,237.3 172.8,226.9 173.5,224.8 174.1,214.4 174.6,217.5 175.1,230 176.1,231.1 176.9,229.5 177.2,256.1 179.3,256.6 181.9,256.1 185,256.6 186.5,257.8 188.3,261.3 190,263 191.7,263.9 192.3,269.4 194.3,270.5 197,269.4 199.6,270 202.2,269.4 204.8,270 206.5,269.4 207,263 208.6,263.5 210.3,261.8 212.6,263 214.3,265.3 217,266 219.6,264.2 222.2,265.3 224.8,260.4 226,263.9 227.7,268.2 229.1,265.3 231.7,264.7 233.5,267 236.1,258.7 236.6,267.3 238.7,265.6 240.4,264.2 243,265.6 245.7,266.5 248.3,267 250.9,264.7 253.1,265.6 255.2,265.6 256.4,270 257.8,272.2 259,268.2 260.4,265.6 262.2,263.9 263.9,266.5 265.3,264.2 265.3,280.4" fill="#000" fill-opacity=".38" stroke="#000" stroke-width=".85" stroke-linejoin="round"/>
<text x="177.6" y="204.2" font-size="10.8" text-anchor="middle" fill="#000" stroke="#000" stroke-width=".2">Lower Monumental</text>
<text x="76.8" y="283.1" font-size="8" text-anchor="end" fill="#4d4d4d" stroke="#4d4d4d" stroke-width=".15">0</text>
<text x="76.8" y="260.1" font-size="8" text-anchor="end" fill="#4d4d4d" stroke="#4d4d4d" stroke-width=".15">5000</text>
<text x="76.8" y="237" font-size="8" text-anchor="end" fill="#4d4d4d" stroke="#4d4d4d" stroke-width=".15">10000</text>
<text x="76.8" y="213.9" font-size="8" text-anchor="end" fill="#4d4d4d" stroke="#4d4d4d" stroke-width=".15">15000</text>
<path d="M306.1 272.4H499M306.1 256.4H499M306.1 240.5H499M306.1 224.5H499" stroke="#ececec" stroke-width=".5" fill="none"/>
<path d="M306.1 280.4H499M306.1 264.4H499M306.1 248.5H499M306.1 232.5H499M306.1 216.5H499M314.9 210.4V283.9M329.8 210.4V283.9M343.3 210.4V283.9M358.2 210.4V283.9M372.7 210.4V283.9M387.6 210.4V283.9M402.1 210.4V283.9M417 210.4V283.9M431.9 210.4V283.9M446.4 210.4V283.9M461.3 210.4V283.9M475.8 210.4V283.9M490.7 210.4V283.9" stroke="#e9e9e9" stroke-width=".8" fill="none"/>
<path clip-path="url(#c_ih)" d="M314.9 280.4L314.9 256.9L315.4 225.6L316.8 242.1L316.8 280.4ZM321.9 280.4L321.9 240.4L322.9 229.1L324.5 237.8L326.2 223L327.1 244.7L327.1 280.4ZM331.1 280.4L331.1 256.9L332.5 236L333.7 248.2L334.9 250L337.2 253.4L337.2 280.4ZM343.6 280.4L343.6 246.5L344.7 230.8L346.2 217.8L347.6 231.7L349.3 239.5L350.6 240.4L351.3 248.2L351.3 280.4ZM439.3 280.4L439.3 260.4L440.6 256L442.8 261.3L442.8 280.4ZM443.3 280.4L443.3 260.4L444.6 256L446.3 259L446.3 280.4ZM455 280.4L455 259.5L457.6 249.6L459 263L459 280.4ZM463.7 280.4L463.7 261.3L465.4 258.3L468.9 259L473.3 262.1L473.3 280.4ZM475.9 280.4L475.9 261.3L478 243L480.6 261.8L480.6 280.4ZM350 280.4L350 240.4L351 237.3L352.1 230.5L352.5 235.2L352.5 280.4ZM359 280.4L359 257L359.2 251.9L360.4 245.7L361.5 243.6L362.7 235.7L364.1 244.6L365.7 250.9L367.2 237.3L368.6 236.8L369.3 242.5L370.4 242L371.9 249.8L372.3 247.8L372.4 219.6L373.8 219L375.1 223.7L376.6 213.8L377.3 213.8L378.2 221.7L379.7 218L380.8 218.5L381.8 223.2L383.4 219.6L385 215.4L386 215.4L387.1 217L388.1 221.7L389.5 218.5L390.7 218L391.8 222.7L393 221.7L394.4 218L395.4 223.7L396.5 218.5L397.5 218.5L397.6 220.6L397.6 280.4Z" fill="#f00"/>
<polygon points="314.9,280.4 314.9,256.9 315.8,254.3 316.8,242.1 317.7,253.4 318.9,253.4 320.7,236 321.9,240.4 322.9,234.3 323.8,239.5 325,240.4 325.9,240.4 327.3,246.5 328.5,250.8 329.9,252.6 331.1,256.9 332.5,245.6 333.7,251.7 334.9,252.6 337.2,254.3 338.9,259.5 340.7,243 342.4,264.7 344.7,234.3 346.2,231.7 347.3,234.3 348.8,241.3 349.9,237.8 350,247.8 352.1,231.1 353.1,240.4 354.7,238.4 356.3,234.2 356.8,219.6 357.5,220.6 358.1,237.3 358.9,251.9 359.6,258.2 362,259.2 365.1,261.3 368,260.3 369.3,251.9 369.8,246.9 370.4,251.9 371.1,259.2 373.5,255.1 375.6,254.5 376.6,251.9 377.7,255.1 379.2,253.5 380.8,254 381.8,257 382.6,237.3 383.2,229 383.9,236.3 385,225.8 386,221.7 386.7,225.8 387.6,222.7 388.6,225.8 389.5,241.5 390.2,226.9 390.9,223.7 391.5,226.9 392.3,242.5 393,254 394.9,255.6 396.5,254 397.2,232.1 397.5,218.5 398.5,220.6 399.9,222.2 401.1,220.6 401.9,218.5 402.2,258.2 404.3,262.4 410,262.4 411.5,262.1 413.3,260.7 416.2,261.8 417.1,271.2 419.3,272.6 422,272.6 423.7,270.8 425.4,272.2 428,271.7 430.7,271.7 431.5,270.8 432,256.9 433.6,258.3 435.3,255.2 437.6,257.3 439.3,260.4 442,261.8 444.6,259.5 447.2,258.7 449.8,252.6 451,258.7 452.7,264.2 454.1,258.7 456.7,259.5 458.5,263 460.2,250 461.1,263 463.7,261.3 465.4,259.5 468,260.4 470.7,262.1 472.4,263 474.1,259.5 475.9,261.3 478.1,261.3 480.2,261.3 481.4,267.3 482.8,271.2 484,263.9 485.4,259.5 487.2,256 488.6,261.3 489.8,257.3 490.3,258.7 490.3,280.4" fill="#000" fill-opacity=".38" stroke="#000" stroke-width=".85" stroke-linejoin="round"/>
<text x="402.6" y="204.2" font-size="10.8" text-anchor="middle" fill="#000" stroke="#000" stroke-width=".2">Ice Harbor</text>
<text x="301.5" y="283.1" font-size="8" text-anchor="end" fill="#4d4d4d" stroke="#4d4d4d" stroke-width=".15">0</text>
<text x="301.5" y="267.1" font-size="8" text-anchor="end" fill="#4d4d4d" stroke="#4d4d4d" stroke-width=".15">2500</text>
<text x="301.5" y="251.2" font-size="8" text-anchor="end" fill="#4d4d4d" stroke="#4d4d4d" stroke-width=".15">5000</text>
<text x="301.5" y="235.2" font-size="8" text-anchor="end" fill="#4d4d4d" stroke="#4d4d4d" stroke-width=".15">7500</text>
<text x="301.5" y="219.2" font-size="8" text-anchor="end" fill="#4d4d4d" stroke="#4d4d4d" stroke-width=".15">10000</text>
<path d="M81.1 370H274.1M81.1 353.5H274.1M81.1 337H274.1M81.1 320.6H274.1" stroke="#ececec" stroke-width=".5" fill="none"/>
<path d="M81.1 378.3H274.1M81.1 361.8H274.1M81.1 345.3H274.1M81.1 328.8H274.1M81.1 312.5H274.1M89.9 308.3V381.8M104.8 308.3V381.8M118.3 308.3V381.8M133.2 308.3V381.8M147.7 308.3V381.8M162.6 308.3V381.8M177.1 308.3V381.8M192 308.3V381.8M206.9 308.3V381.8M221.4 308.3V381.8M236.3 308.3V381.8M250.8 308.3V381.8M265.7 308.3V381.8" stroke="#e9e9e9" stroke-width=".8" fill="none"/>
<path clip-path="url(#c_mn)" d="M89.9 378.3L89.9 332.2L90.1 311.8L91.3 316.5L92.5 317.4L93.9 316.5L94.3 320L94.3 378.3ZM104.9 378.3L104.9 330.4L106.1 331L108.7 328.7L112.2 331.7L115.7 329.9L119.1 327.8L121.2 327L123.5 328.7L125.6 329.2L127.8 331.3L127.8 378.3ZM176.6 378.3L176.6 340.9L191.7 340.9L191.7 351.8L198.2 351.8L198.3 357.4L198.3 378.3ZM207.4 378.3L207.4 347.3L209.1 345.6L211.7 346.3L211.7 378.3ZM221.3 378.3L221.3 346.6L222.7 344.5L224.3 344.2L224.3 378.3ZM235.7 378.3L235.7 339.7L237.8 336.2L239.6 334.8L241.3 334.8L242.7 336.9L242.7 378.3ZM250.9 378.3L250.9 327.8L253 322.3L254.9 327.8L254.9 378.3ZM257.5 378.3L257.5 332.2L259.6 329.6L262.2 328.2L264.8 329.2L265.3 331.3L265.3 378.3ZM125 378.3L125 330.6L127.5 330.6L127.6 331.1L127.6 378.3ZM136.3 378.3L136.3 355L136.5 320.2L149 319.9L162.1 319.4L162.6 317.6L176.9 317.6L177 341.1L185 341.1L185 348.9L185 378.3Z" fill="#f00"/>
<polygon points="89.9,378.3 89.9,332.2 91,326.1 91.8,325.2 93,326.1 93.9,320.9 95.7,314.8 96.9,313.9 97.9,312.2 99.1,314.8 100,312.5 101.2,311.3 102.3,314.8 103.5,316.5 104.3,317.4 104.9,330.4 106.1,333 107.5,327.8 108.7,330.4 110.4,332.2 112.2,333.4 113.9,335.7 115.7,331.3 117.4,333.9 119.1,329.6 121.2,328.7 122.6,332.2 124.3,333.9 125,334.3 126.6,338.4 127.6,330.1 128.7,329.6 130.7,329.6 132.3,328.5 133.1,324.9 133.6,320.2 135.4,320.7 136.5,321.2 137.3,335.3 137.7,349.9 139.1,351.5 140.7,350.5 142.7,348.9 145.4,346.3 146.9,347.3 148.5,349.9 150.1,351 151.6,349.4 153.2,349.9 154.7,351 156.3,348.9 157.9,343.7 158.9,338.4 160,336.9 160.7,345.2 161.5,335.3 162.6,330.1 163.8,327.5 165.2,326.4 166.2,325.9 167.3,327 168,344.7 169.4,347.8 170.4,343.7 171.5,331.1 172.2,330.6 173,334.3 174.1,335.3 175.1,337.4 176.1,340 176.9,341.1 177.2,344.2 178.8,345.8 180.8,345.8 182.9,346.3 184,347.8 185,348.9 186.5,351.3 188.3,351.8 190,352.2 191.7,351.8 193.5,353.9 195.2,355.7 197,358.8 198.2,357.4 198.7,352.2 201.3,351.8 203.9,351.8 206.5,351.8 207,347 208.6,347.8 210.9,346.6 212.6,346.1 214.3,347 216.1,346.1 217.8,347 219.6,346.1 221.3,346.6 223,345.6 224.8,343.5 226.5,346.1 227.7,347 230,345.2 231.7,344.3 233,342.6 234.3,346.6 236.1,339.1 237.8,338.3 239.6,336.5 241,335.7 242.2,337.4 243.4,335.7 244.8,339.1 246,336.5 247.4,337.4 249.1,336.5 250.3,333.9 251.2,326.1 253,323.5 254.3,327 255.6,329.6 257,331.3 258.7,333 261.3,333 262.2,330.4 263.9,329.9 265.3,331.3 265.3,378.3" fill="#000" fill-opacity=".38" stroke="#000" stroke-width=".85" stroke-linejoin="round"/>
<text x="177.6" y="302.2" font-size="10.8" text-anchor="middle" fill="#000" stroke="#000" stroke-width=".2">McNary</text>
<text x="76.8" y="381" font-size="8" text-anchor="end" fill="#4d4d4d" stroke="#4d4d4d" stroke-width=".15">0</text>
<text x="76.8" y="364.5" font-size="8" text-anchor="end" fill="#4d4d4d" stroke="#4d4d4d" stroke-width=".15">5000</text>
<text x="76.8" y="348" font-size="8" text-anchor="end" fill="#4d4d4d" stroke="#4d4d4d" stroke-width=".15">10000</text>
<text x="76.8" y="331.5" font-size="8" text-anchor="end" fill="#4d4d4d" stroke="#4d4d4d" stroke-width=".15">15000</text>
<text x="76.8" y="315.2" font-size="8" text-anchor="end" fill="#4d4d4d" stroke="#4d4d4d" stroke-width=".15">20000</text>
<path d="M306.1 369.2H499M306.1 350.7H499M306.1 332.1H499M306.1 313.6H499" stroke="#ececec" stroke-width=".5" fill="none"/>
<path d="M306.1 378.5H499M306.1 359.9H499M306.1 341.4H499M306.1 322.9H499M314.9 308.3V381.8M329.8 308.3V381.8M343.3 308.3V381.8M358.2 308.3V381.8M372.7 308.3V381.8M387.6 308.3V381.8M402.1 308.3V381.8M417 308.3V381.8M431.9 308.3V381.8M446.4 308.3V381.8M461.3 308.3V381.8M475.8 308.3V381.8M490.7 308.3V381.8" stroke="#e9e9e9" stroke-width=".8" fill="none"/>
<path clip-path="url(#c_jd)" d="M314.9 378.5L314.9 334.4L315.3 313L316.8 325.2L316.8 378.5ZM331.1 378.5L331.1 342.6L332.5 326.1L333.7 333.9L334.9 336.5L336.3 340L336.3 378.5ZM344.7 378.5L344.7 334.8L346.2 325.2L347.6 334.8L349.3 333.9L349.9 337.4L349.9 378.5ZM412.4 378.5L412.4 343.5L413.3 339.7L416.7 340.3L416.9 346.1L416.9 378.5ZM455.9 378.5L455.9 347.8L457.3 344.3L458.3 352.2L458.3 378.5ZM464.2 378.5L464.2 342.6L465.4 337.4L466.5 343.1L466.5 378.5ZM466.5 378.5L466.5 343.1L468 339.7L471 340.3L471.9 343.5L471.9 378.5ZM473.8 378.5L473.8 341.4L474.7 339.1L475.7 340.9L475.7 378.5ZM475.9 378.5L475.9 335.7L478 316.5L480.6 338.6L480.6 378.5ZM485.1 378.5L485.1 340L486.8 335.7L488.2 340L488.2 378.5ZM359.6 378.5L359.6 324.4L359.9 323.8L361.5 321.2L362.7 318.1L364.1 321.7L365.7 323.8L367.2 318.6L368.6 319.7L369.8 321.7L369.8 378.5ZM371.7 378.5L371.7 324.9L371.9 322.8L373 321.2L374.5 321.7L376.1 320.2L377.1 317L378.2 322.3L379.7 319.7L381.1 320.2L382.6 322.8L382.6 378.5ZM383.9 378.5L383.9 320.7L384.4 318.6L386 317.4L386.5 319.7L386.5 378.5ZM391.5 378.5L391.5 313.4L391.8 313.2L393.3 312.4L394.9 313.9L396.5 312.4L398 313.4L399.6 312.4L401.9 312.4L402 324.9L402 378.5Z" fill="#f00"/>
<polygon points="314.9,378.5 314.9,334.4 316,332.2 316.8,325.2 317.7,330.4 318.9,332.2 320.7,320.9 321.9,322.6 322.9,315.7 323.8,319.1 325,320 326.2,311.3 327.1,322.6 328.5,326.1 329.9,337.4 331.1,342.6 332.5,330.4 333.7,336.5 334.9,337.4 337.2,340.9 338.9,344.3 340.7,333.9 342.4,348.3 344.7,334.8 346.2,333.9 347.3,339.1 348.8,341.7 349.9,337.4 350,344.7 351,342.6 352.1,334.3 352.9,340.5 354.7,339.5 356.3,336.4 357.3,327 358.4,319.7 359.2,323.3 360.4,324.4 361.5,326.4 362.3,346.8 363.6,342.6 364.8,338.4 365.7,340.5 367.2,337.9 368.8,336.4 369.3,322.8 370.4,320.7 371.4,324.9 372.1,337.4 373.5,339.5 374.5,344.2 375.9,340 377.1,339 378.2,336.4 379.7,338.4 381.3,335.3 382.4,324.9 383.4,320.7 385,319.7 386,317.6 387.1,314.4 387.8,312.4 389.1,312.9 390.2,312.4 391.2,312.4 392.3,314.4 393,323.8 394.4,324.9 395.7,329.6 396.5,320.7 397.5,318.6 398.5,320.7 399.3,325.9 400.6,326.4 401.9,324.9 402.2,343.7 403.8,347.3 405.3,345.8 406.9,345.2 408.5,343.1 410,343.7 411.5,343.8 413.3,344.9 415,346.1 416.4,345.6 417.1,351.8 419.3,353 422,352.2 423.7,350.8 425.4,353 428,352.2 430.7,352.2 432.4,353.9 435,351.8 437.6,353 439.3,355.3 441.1,352.2 442.3,354.8 444.2,351.8 445.4,353 448,350.8 449.8,346.6 451,350.4 452.7,356 454.1,351.8 455.5,351.3 456.7,345.6 458,353 459.3,354.3 460.7,344.3 462,346.1 463.7,343.5 465.4,340 466.7,343.5 468,341.7 469.8,342.6 471,341.7 472.4,344.3 474.1,340.9 475.3,341.7 476.4,334.8 478,331.3 479.3,332.2 480.6,339.1 482,350.4 482.8,351.8 484,342.6 485.4,339.7 487.2,337.4 488.6,340.9 489.8,335.7 490.3,337.4 490.3,378.5" fill="#000" fill-opacity=".38" stroke="#000" stroke-width=".85" stroke-linejoin="round"/>
<text x="402.6" y="302.2" font-size="10.8" text-anchor="middle" fill="#000" stroke="#000" stroke-width=".2">John Day</text>
<text x="301.5" y="381.2" font-size="8" text-anchor="end" fill="#4d4d4d" stroke="#4d4d4d" stroke-width=".15">0</text>
<text x="301.5" y="362.6" font-size="8" text-anchor="end" fill="#4d4d4d" stroke="#4d4d4d" stroke-width=".15">10000</text>
<text x="301.5" y="344.1" font-size="8" text-anchor="end" fill="#4d4d4d" stroke="#4d4d4d" stroke-width=".15">20000</text>
<text x="301.5" y="325.6" font-size="8" text-anchor="end" fill="#4d4d4d" stroke="#4d4d4d" stroke-width=".15">30000</text>
<path d="M81.1 465.2H274.1M81.1 443.1H274.1M81.1 421H274.1" stroke="#ececec" stroke-width=".5" fill="none"/>
<path d="M81.1 476.3H274.1M81.1 454.2H274.1M81.1 432.1H274.1M81.1 410H274.1M89.9 406.2V479.8M104.8 406.2V479.8M118.3 406.2V479.8M133.2 406.2V479.8M147.7 406.2V479.8M162.6 406.2V479.8M177.1 406.2V479.8M192 406.2V479.8M206.9 406.2V479.8M221.4 406.2V479.8M236.3 406.2V479.8M250.8 406.2V479.8M265.7 406.2V479.8" stroke="#e9e9e9" stroke-width=".8" fill="none"/>
<path clip-path="url(#c_td)" d="M89.9 476.3L89.9 434.9L90.4 411L91.8 427.6L91.8 476.3ZM96.9 476.3L96.9 423.2L97.9 413.7L99.5 419.7L101.2 409.3L102.1 424.1L102.1 476.3ZM106.1 476.3L106.1 441.5L107.5 422.3L108.7 434.5L109.9 438.9L111.3 440.1L111.3 476.3ZM119.7 476.3L119.7 435.4L121.2 424.1L122.6 435.4L124.3 438.9L124.3 476.3ZM187.4 476.3L187.4 448.4L188.3 445.8L191.7 445.8L191.9 449.3L191.9 476.3ZM239.2 476.3L239.2 443.2L240.4 435.4L241.5 443.6L241.5 476.3ZM241.5 476.3L241.5 443.6L243 439.7L246 440.1L246.9 445L246.9 476.3ZM248.8 476.3L248.8 440.6L249.7 438L250.7 441.1L250.7 476.3ZM250.9 476.3L250.9 435.4L253 420.6L255.6 438.9L255.6 476.3ZM260.1 476.3L260.1 439.7L261.8 435.4L263.2 439.7L263.2 476.3ZM137.1 476.3L137.1 453L137.3 427.1L138 426.5L139.1 429.7L140.7 433.3L142.2 427.1L143.6 426.5L144.3 430.2L145.4 429.7L146.9 435.9L147.4 428.1L148.8 428.6L150.1 432.3L151.1 429.1L152.3 423.4L153.2 431.2L154.7 427.1L156.1 428.1L156.8 431.2L158.4 428.1L160 425L161.5 425L163.1 426.5L164.7 426L166.2 427.1L167.8 426.5L169.4 427.1L170.9 426.5L172.5 426.5L174.1 426L175.6 426.5L176.9 426.2L177 431.7L177 476.3Z" fill="#f00"/>
<polygon points="89.9,476.3 89.9,434.9 91,432.8 91.8,427.6 92.7,433.7 93.9,432.8 95.7,420.3 96.9,423.2 97.9,415.4 98.8,419.7 100,421.5 101.2,410.2 102.1,424.1 103.5,426.7 104.9,436.3 106.1,441.5 107.5,429.3 108.7,438 109.9,439.7 112.2,440.6 113.9,445.8 115.7,435.4 117.4,449.3 119.7,435.4 121.2,434.5 122.3,438.9 123.8,441.5 124.9,438.9 125,444.8 126,445.8 127.6,434.4 128.7,441.7 130.2,438.5 131.3,436.4 132.3,425.5 133.4,432.3 134.4,433.3 135.4,430.2 136.7,429.1 137.3,451.1 138,454.2 141.7,455.2 144.8,451.1 145.9,450 146.9,453.7 151.1,453.7 152.1,451.6 153.2,453.7 156.3,452.1 158.4,450.5 160.5,450 161.3,438.5 162.6,438 164.1,435.9 165.2,435.4 166.2,437.5 167.3,437 168,451.1 169.4,451.6 170.1,438.5 170.9,436.4 171.8,430.2 173,429.1 174.1,429.7 175.1,432.8 176.1,433.3 176.9,431.7 177.2,449 178.8,451.6 180.3,450.5 181.9,451.1 183.5,449 185,450 186.5,449.3 188.3,448.4 190,449.8 191.4,448.4 192.1,455.4 194.3,457.5 197,457.1 198.7,455 200.4,457.1 203,456.8 205.7,456.3 207.4,452.8 208.6,454 210.9,451 212.6,453.3 214.3,455 216.1,451.9 217.3,454.5 219.2,451.6 220.4,453.3 223,451.6 224.8,446.7 226,451 227.7,456.8 229.1,451.9 230.5,451 231.7,445 233,453.7 234.3,454.5 235.7,444.1 237,447.6 238.7,444.1 240.4,438.9 241.7,444.1 243,442.3 244.8,443.6 246,442.3 247.4,447.6 249.1,439.7 250.3,441.5 251.4,435.4 253,431.9 254.3,433.7 255.6,439.7 257,448.4 257.8,449.8 259,442.3 260.4,439.4 262.2,437.1 263.6,440.6 264.8,437.1 265.3,438 265.3,476.3" fill="#000" fill-opacity=".38" stroke="#000" stroke-width=".85" stroke-linejoin="round"/>
<text x="177.6" y="400.2" font-size="10.8" text-anchor="middle" fill="#000" stroke="#000" stroke-width=".2">The Dalles</text>
<text x="76.8" y="479" font-size="8" text-anchor="end" fill="#4d4d4d" stroke="#4d4d4d" stroke-width=".15">0</text>
<text x="76.8" y="456.9" font-size="8" text-anchor="end" fill="#4d4d4d" stroke="#4d4d4d" stroke-width=".15">10000</text>
<text x="76.8" y="434.8" font-size="8" text-anchor="end" fill="#4d4d4d" stroke="#4d4d4d" stroke-width=".15">20000</text>
<text x="76.8" y="412.7" font-size="8" text-anchor="end" fill="#4d4d4d" stroke="#4d4d4d" stroke-width=".15">30000</text>
<text x="89.9" y="489.6" font-size="8" text-anchor="middle" fill="#4d4d4d" stroke="#4d4d4d" stroke-width=".15">Jan</text>
<text x="133.2" y="489.6" font-size="8" text-anchor="middle" fill="#4d4d4d" stroke="#4d4d4d" stroke-width=".15">Apr</text>
<text x="177.1" y="489.6" font-size="8" text-anchor="middle" fill="#4d4d4d" stroke="#4d4d4d" stroke-width=".15">Jul</text>
<text x="221.4" y="489.6" font-size="8" text-anchor="middle" fill="#4d4d4d" stroke="#4d4d4d" stroke-width=".15">Oct</text>
<text x="265.7" y="489.6" font-size="8" text-anchor="middle" fill="#4d4d4d" stroke="#4d4d4d" stroke-width=".15">Jan</text>
<path d="M306.1 466.8H499M306.1 447.9H499M306.1 429H499M306.1 410.2H499" stroke="#ececec" stroke-width=".5" fill="none"/>
<path d="M306.1 476.3H499M306.1 457.4H499M306.1 438.5H499M306.1 419.6H499M314.9 406.2V479.8M329.8 406.2V479.8M343.3 406.2V479.8M358.2 406.2V479.8M372.7 406.2V479.8M387.6 406.2V479.8M402.1 406.2V479.8M417 406.2V479.8M431.9 406.2V479.8M446.4 406.2V479.8M461.3 406.2V479.8M475.8 406.2V479.8M490.7 406.2V479.8" stroke="#e9e9e9" stroke-width=".8" fill="none"/>
<path clip-path="url(#c_bv)" d="M314.9 476.3L314.9 417.1L315.1 408.8L316.3 410.2L317.5 411.9L317.5 476.3ZM328.8 476.3L328.8 424.1L342.4 424.1L342.6 425.8L342.6 476.3ZM346.2 476.3L346.2 421.5L352.3 421.5L352.5 429.7L352.5 476.3ZM402 476.3L402 440.6L416.7 440.3L416.9 458L416.9 476.3ZM418.1 476.3L418.1 460.6L423.7 460.6L423.7 476.3ZM446 476.3L446 439.4L448 438.3L450.3 438.3L450.3 476.3ZM457.3 476.3L457.3 437.7L460.2 437.7L460.2 476.3ZM461.1 476.3L461.1 428.4L463.7 427.2L468 427.6L471.5 426.7L475 428.4L475.3 422.3L478 418.5L480.2 421.5L482 422.3L484.6 422.3L487.2 421.5L489.8 421.5L490.3 429.3L490.3 476.3ZM350 476.3L350 422.4L352.6 422.4L352.6 476.3ZM361.8 476.3L361.8 420.6L369.3 420.6L369.3 476.3ZM371.9 476.3L371.9 422.7L376.1 423.4L379.5 423.4L379.5 476.3ZM380.3 476.3L380.3 423.7L383 423.4L383 476.3ZM393.6 476.3L393.6 417.7L396.3 417.7L396.3 476.3ZM399.9 476.3L399.9 417.4L401.9 419.2L402 420.8L402 476.3ZM402.2 476.3L402.2 440.6L410 440.6L410 476.3Z" fill="#f00"/>
<polygon points="314.9,476.3 314.9,417.1 316,414.5 316.8,412.8 318,411 319.8,410.2 322.4,409.3 325,408.8 326.7,409.3 328.1,410.2 328.8,426.7 330.2,426.7 331.4,425 332.8,426.7 334.6,424.1 336,426.7 337.7,425.8 339.8,430.7 341.5,428.4 343.3,422.3 345,420.6 346.2,421.5 347.3,424.1 348.8,429.3 350,429.1 351.6,429.7 352.6,422.4 354.2,421.8 355.7,421.8 357.3,420.8 358.9,420.3 361,420.3 362,420.8 362.5,441.7 363.6,442.7 365.1,441.1 367.2,439.6 368.8,438 369.3,420.8 370.4,420.6 371.4,421 372.1,422.4 373,433.3 374.5,437 375.6,438.5 376.6,436.4 378.2,433.3 379.2,431.2 379.7,423.4 380.5,423.9 381.1,431.7 382.4,431.7 382.9,423.4 384.4,423.4 386.5,423.4 387.1,418.2 388.1,417.4 390.7,417.4 393.8,417.7 394.7,419.7 395.4,422.4 396.1,417.7 399.1,417.4 400.1,417.7 400.9,419.7 401.9,420.8 402.2,440.6 403.2,445.8 404.3,446.4 405.3,446.9 406.4,443.8 407.2,442.2 407.9,443.2 408.5,446.9 410,446.9 410.7,448.4 412.4,451.9 413.3,455.4 415,457.1 416.7,458 417.3,460.6 419.3,461.5 421.1,464.4 422.8,462 423.7,460.6 431.5,460.6 431.9,442.3 434.1,442.3 436.7,441.5 440.2,441.8 442.8,441.5 445.4,441.5 446.3,439.7 448,439.7 449.8,438.3 452.4,438.9 455,438.3 457.6,437.7 458.5,440.6 459.7,441.1 460.7,438 461.4,431.9 463.7,430.2 466.3,431 468,431.9 470.7,430.2 472.4,431 474.1,429.3 475.3,427.6 476.4,424.1 478,424.1 479.3,426.7 480.6,425 482,425.8 483.7,426.7 485.4,427.6 487.2,425 488.9,428.4 490.3,429.3 490.3,476.3" fill="#000" fill-opacity=".38" stroke="#000" stroke-width=".85" stroke-linejoin="round"/>
<text x="402.6" y="400.2" font-size="10.8" text-anchor="middle" fill="#000" stroke="#000" stroke-width=".2">Bonneville</text>
<text x="301.5" y="479" font-size="8" text-anchor="end" fill="#4d4d4d" stroke="#4d4d4d" stroke-width=".15">0</text>
<text x="301.5" y="460.1" font-size="8" text-anchor="end" fill="#4d4d4d" stroke="#4d4d4d" stroke-width=".15">5000</text>
<text x="301.5" y="441.2" font-size="8" text-anchor="end" fill="#4d4d4d" stroke="#4d4d4d" stroke-width=".15">10000</text>
<text x="301.5" y="422.3" font-size="8" text-anchor="end" fill="#4d4d4d" stroke="#4d4d4d" stroke-width=".15">15000</text>
<text x="314.9" y="489.6" font-size="8" text-anchor="middle" fill="#4d4d4d" stroke="#4d4d4d" stroke-width=".15">Jan</text>
<text x="358.2" y="489.6" font-size="8" text-anchor="middle" fill="#4d4d4d" stroke="#4d4d4d" stroke-width=".15">Apr</text>
<text x="402.1" y="489.6" font-size="8" text-anchor="middle" fill="#4d4d4d" stroke="#4d4d4d" stroke-width=".15">Jul</text>
<text x="446.4" y="489.6" font-size="8" text-anchor="middle" fill="#4d4d4d" stroke="#4d4d4d" stroke-width=".15">Oct</text>
<text x="490.7" y="489.6" font-size="8" text-anchor="middle" fill="#4d4d4d" stroke="#4d4d4d" stroke-width=".15">Jan</text>
<text x="26" y="239.3" font-size="10.6" text-anchor="middle" fill="#000" stroke="#000" stroke-width=".2">Daily total</text>
<text x="26" y="251.4" font-size="10.6" text-anchor="middle" fill="#000" stroke="#000" stroke-width=".2">generation</text>
<text x="26" y="263.5" font-size="10.6" text-anchor="middle" fill="#000" stroke="#000" stroke-width=".2">(MWh)</text>
<path d="M515.5 15.9V86.4" stroke="#1a1a1a" stroke-width="1.3" fill="none"/>
<text x="521.7" y="38.6" font-size="12.5" fill="#000" stroke="#000" stroke-width=".25">Mid</text>
<text x="521.7" y="51.8" font-size="12.5" fill="#000" stroke="#000" stroke-width=".25">Columbia</text>
<path d="M515.5 102.3V284" stroke="#1a1a1a" stroke-width="1.3" fill="none"/>
<text x="521.7" y="190.6" font-size="12.5" fill="#000" stroke="#000" stroke-width=".25">Lower</text>
<text x="521.7" y="203.8" font-size="12.5" fill="#000" stroke="#000" stroke-width=".25">Snake</text>
<path d="M515.5 304.2V476.3" stroke="#1a1a1a" stroke-width="1.3" fill="none"/>
<text x="521.7" y="392.8" font-size="12.5" fill="#000" stroke="#000" stroke-width=".25">Lower</text>
<text x="521.7" y="406" font-size="12.5" fill="#000" stroke="#000" stroke-width=".25">Columbia</text>
<path d="M402 121.9H424.8" stroke="#f00" stroke-width="1.5" fill="none"/>
<text x="455.4" y="125.5" font-size="9.8" text-anchor="middle" fill="#f00" stroke="#f00" stroke-width=".15">Non-feasible</text>
<text x="455.4" y="135" font-size="9.8" text-anchor="middle" fill="#f00" stroke="#f00" stroke-width=".15">generation</text>
</svg>
</body></html>
